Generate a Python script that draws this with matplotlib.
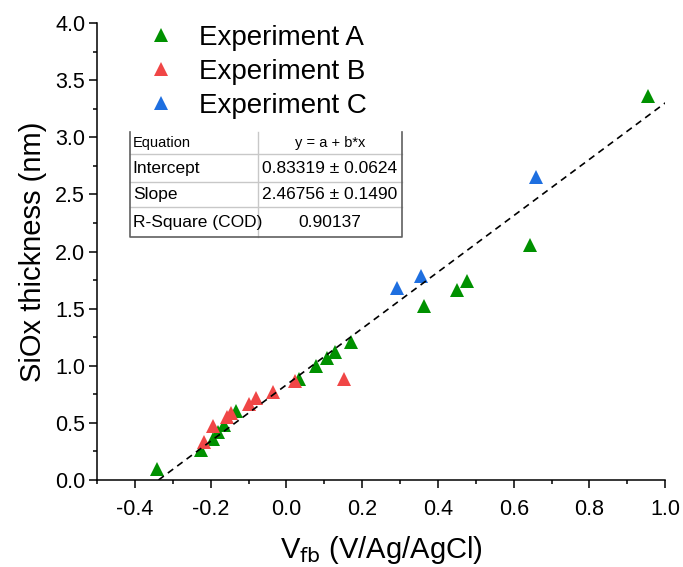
import matplotlib
matplotlib.use("Agg")
import matplotlib.pyplot as plt
from matplotlib.ticker import MultipleLocator, FormatStrFormatter
import numpy as np

plt.rcParams['font.family'] = ['Liberation Sans', 'DejaVu Sans']
plt.rcParams['axes.unicode_minus'] = False

# experiment A (green)
xa = [-0.342, -0.226, -0.195, -0.181, -0.164, -0.133, 0.032, 0.078, 0.108,
      0.127, 0.171, 0.362, 0.451, 0.477, 0.643, 0.954]
ya = [0.10, 0.26, 0.36, 0.42, 0.48, 0.60, 0.88, 1.00, 1.07,
      1.12, 1.21, 1.52, 1.66, 1.74, 2.06, 3.36]
# experiment B (red)
xb = [-0.217, -0.193, -0.158, -0.146, -0.098, -0.080, -0.036, 0.024, 0.152]
yb = [0.335, 0.475, 0.554, 0.589, 0.665, 0.715, 0.77, 0.865, 0.885]
# experiment C (blue)
xc = [0.292, 0.356, 0.659]
yc = [1.68, 1.785, 2.65]

# linear fit from the table
a_fit = 0.83319
b_fit = 2.46756
fit_x = [-a_fit / b_fit, 1.0]

table_rows = [["Equation", "y = a + b*x"],
              ["Intercept", "0.83319 \u00b1 0.0624"],
              ["Slope", "2.46756 \u00b1 0.1490"],
              ["R-Square (COD)", "0.90137"]]

green = "#009100"
red = "#F04646"
blue = "#1E6FE0"

fig = plt.figure(figsize=(6.83, 5.67), dpi=100)
ax = fig.add_axes([0.142, 0.1534, 0.832, 0.806])

ax.plot(xa, ya, '^', color=green, ms=9.5, mew=0, label="Experiment A", zorder=3)
ax.plot(xb, yb, '^', color=red, ms=9.5, mew=0, label="Experiment B", zorder=3)
ax.plot(xc, yc, '^', color=blue, ms=9.5, mew=0, label="Experiment C", zorder=3)

fx = np.array(fit_x)
ax.plot(fx, a_fit + b_fit * fx, color='black', lw=1.2, dashes=(4, 3), zorder=4)

ax.set_xlim(-0.5, 1.0)
ax.set_ylim(0, 4.0)
ax.xaxis.set_major_locator(MultipleLocator(0.2))
ax.xaxis.set_minor_locator(MultipleLocator(0.1))
ax.yaxis.set_major_locator(MultipleLocator(0.5))
ax.yaxis.set_minor_locator(MultipleLocator(0.25))
ax.xaxis.set_major_formatter(FormatStrFormatter('%.1f'))
ax.yaxis.set_major_formatter(FormatStrFormatter('%.1f'))

for s in ['top', 'right']:
    ax.spines[s].set_visible(False)
for s in ['left', 'bottom']:
    ax.spines[s].set_linewidth(1.1)
ax.tick_params(which='major', direction='out', length=5.5, width=1.1, labelsize=15.5)
ax.tick_params(axis='x', which='major', pad=8)
ax.tick_params(axis='y', which='major', pad=3)
ax.tick_params(which='minor', direction='out', length=3, width=1.1)

ax.set_xlabel("V$_{\\mathrm{fb}}$ (V/Ag/AgCl)", fontsize=21, labelpad=10)
ax.set_ylabel("SiOx thickness (nm)", fontsize=21, labelpad=6)

leg = ax.legend(loc='upper left', bbox_to_anchor=(0.044, 1.05), frameon=False,
                fontsize=20, handlelength=1.0, handletextpad=0.87,
                labelspacing=0.28, numpoints=1)

# fit table
x0, xm, x1 = 0.058, 0.283, 0.537
edges = [0.762, 0.713, 0.652, 0.597, 0.531]
tr = ax.transAxes
for i, (left, right) in enumerate(table_rows):
    yc_ = (edges[i] + edges[i + 1]) / 2
    fs = 10.5 if i == 0 else 12.5
    ax.text(x0 + 0.005, yc_, left, transform=tr, fontsize=fs, ha='left', va='center')
    ax.text((xm + x1) / 2, yc_, right, transform=tr, fontsize=fs, ha='center', va='center')
for e in edges[1:-1]:
    ax.plot([x0, x1], [e, e], transform=tr, color='#c8c8c8', lw=1, clip_on=False)
ax.plot([xm, xm], [edges[0], edges[-1]], transform=tr, color='#c8c8c8', lw=1, clip_on=False)
ax.plot([x0, x0, x1, x1], [edges[0], edges[-1], edges[-1], edges[0]], transform=tr,
        color='#606060', lw=1.2, clip_on=False)

fig.savefig("out.png", dpi=100)
